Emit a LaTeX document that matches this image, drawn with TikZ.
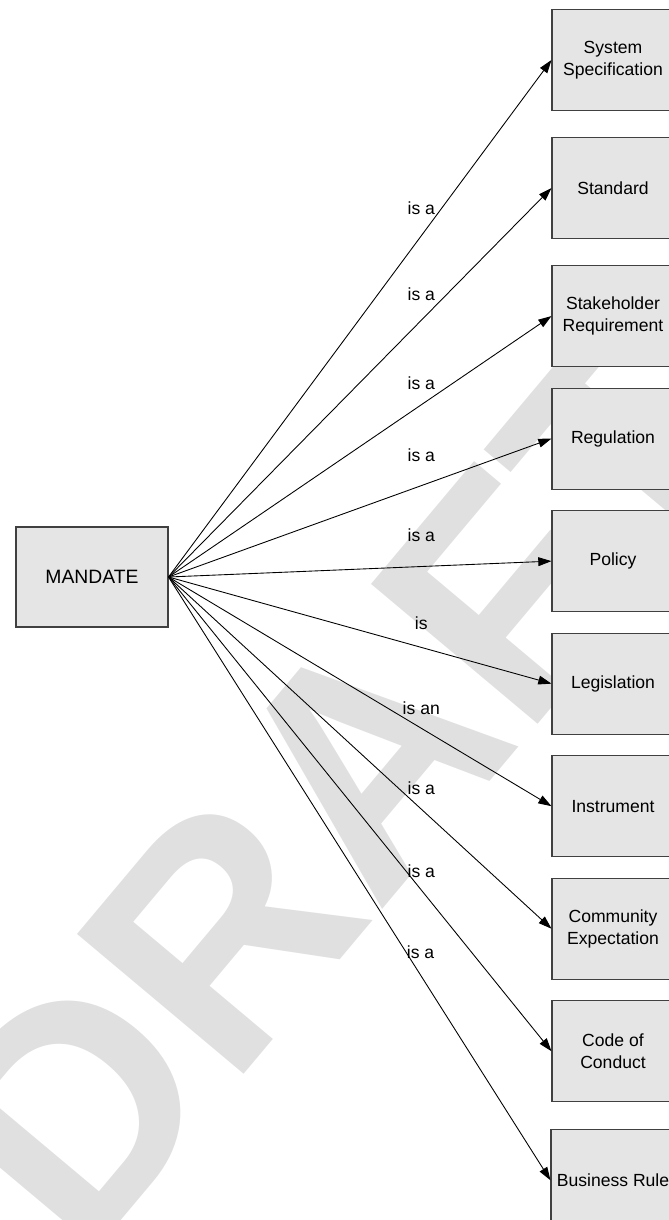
\documentclass[tikz,border=0pt]{standalone}
\usepackage{fontspec}
\setmainfont{Liberation Sans}
\usetikzlibrary{arrows.meta,positioning}

\begin{document}
\begin{tikzpicture}[
        x=0.02cm, y=-0.02cm,
        node distance=0.41cm,
        entity/.style={rectangle, minimum width=2.44cm, minimum height=2.02cm,
            align=center, draw=black!75, fill=black!10, line width=0.6pt,
            font=\fontsize{10}{12.5}\selectfont},
        root/.style={entity, minimum width=3.04cm, minimum height=2cm,
            font=\fontsize{11}{13}\selectfont},
        link/.style={line width=0.5pt, -{Triangle[length=7.5pt, width=5pt]}},
        lbl/.style={pos=0.66, inner sep=0pt, font=\fontsize{10}{12}\selectfont},
        watermark/.style={rotate=50, text=black!12, inner sep=0pt,
            font=\fontsize{180}{180}\selectfont\bfseries},
    ]
        \clip (0,0) rectangle (669,1220);
        \node (draft) [watermark] at (345,785) {DRAFT};

        \node (mandate) [root] at (92,577) {MANDATE};
        \node (sysspec) [entity] at (613,60) {System\\Specification};
        \node (standard) [entity, below=0.52cm of sysspec] {Standard};
        \node (stakeholder) [entity, below=0.52cm of standard] {Stakeholder\\Requirement};
        \node (regulation) [entity, below=of stakeholder] {Regulation};
        \node (policy) [entity, below=of regulation] {Policy};
        \node (legislation) [entity, below=of policy] {Legislation};
        \node (instrument) [entity, below=of legislation] {Instrument};
        \node (community) [entity, below=of instrument] {Community\\Expectation};
        \node (conduct) [entity, below=of community] {Code of\\Conduct};
        \node (bizrule) [entity, below=0.54cm of conduct] {Business Rule};

        \draw [link] (mandate.east) -- node[lbl, yshift=0.56cm] {is a} (sysspec.west);
        \draw [link] (mandate.east) -- node[lbl, yshift=0.52cm] {is a} (standard.west);
        \draw [link] (mandate.east) -- node[lbl, yshift=0.44cm] {is a} (stakeholder.west);
        \draw [link] (mandate.east) -- node[lbl, yshift=0.61cm] {is a} (regulation.west);
        \draw [link] (mandate.east) -- node[lbl, yshift=0.62cm] {is a} (policy.west);
        \draw [link] (mandate.east) -- node[lbl, yshift=0.48cm] {is} (legislation.west);
        \draw [link] (mandate.east) -- node[lbl, yshift=0.40cm] {is an} (instrument.west);
        \draw [link] (mandate.east) -- node[lbl, yshift=0.42cm] {is a} (community.west);
        \draw [link] (mandate.east) -- node[lbl, yshift=0.38cm] {is a} (conduct.west);
        \draw [link] (mandate.east) -- node[lbl, yshift=0.46cm] {is a} (bizrule.west);
    \end{tikzpicture}
\end{document}
